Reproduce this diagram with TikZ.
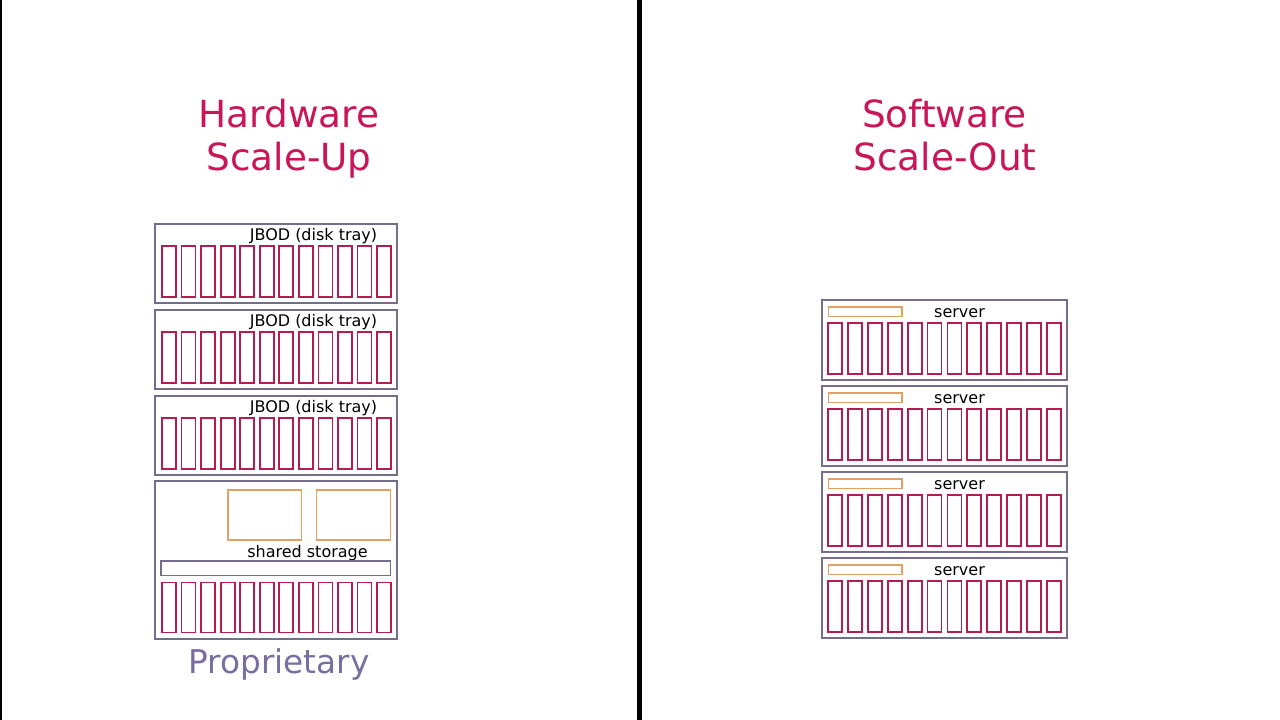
\documentclass[tikz,border=0pt]{standalone}
\usepackage{fontspec}
\setmainfont{DejaVu Sans}
\usetikzlibrary{positioning}

\definecolor{titlered}{RGB}{200,22,88}
\definecolor{diskred}{RGB}{180,28,82}
\definecolor{framegray}{RGB}{118,108,140}
\definecolor{ctrlorange}{RGB}{228,160,96}
\definecolor{proplabel}{RGB}{120,110,160}

\tikzset{
  tray/.style={draw=framegray, line width=1.5pt},
  disk/.style={draw=diskred, line width=1.8pt},
  ctrlbox/.style={draw=ctrlorange, line width=1.8pt},
  heading/.style={text=titlered, font=\fontsize{37.4}{44}\selectfont, inner sep=0pt, anchor=base},
  tag/.style={font=\fontsize{16}{19}\selectfont, inner sep=0pt, anchor=base},
}

\begin{document}
\begin{tikzpicture}[x=1pt,y=-1pt]
      \useasboundingbox (0,0) rectangle (1280,720);
      \fill[white] (0,0) rectangle (1280,720);
      \draw[line width=1.5pt] (0.75,0) -- (0.75,720);
      \fill[black] (637,0) rectangle (642,720);

      % hardware scale-up
      \node[heading] (hardware) at (289,127) {Hardware};
      \node[heading] (scaleup) at (289,170) {Scale-Up};

      \foreach \y [count=\n] in {224,310,396} {
        \draw[tray] (155,\y) rectangle (397,\y+79);
        \node[tag] (jbod\n) at (313.5,\y+16.5) {JBOD (disk tray)};
        \foreach \i in {0,...,11}
          \draw[disk] (162+19.55*\i,\y+22) rectangle (176+19.55*\i,\y+73);
      }

      \draw[tray] (155,481) rectangle (397,639);
      \draw[ctrlbox] (228,490) rectangle (301.5,540);
      \draw[ctrlbox] (316.5,490) rectangle (390.5,540);
      \node[tag] (shared) at (307.5,557) {shared storage};
      \draw[tray] (161,561) rectangle (390.5,575.5);
      \foreach \i in {0,...,11}
        \draw[disk] (162+19.55*\i,582.5) rectangle (176+19.55*\i,632.5);

      \node[heading, text=proplabel, font=\fontsize{32.7}{38}\selectfont] (proprietary) at (279,673) {Proprietary};

      % software scale-out
      \node[heading] (software) at (944.5,127) {Software};
      \node[heading] (scaleout) at (945,170) {Scale-Out};

      \foreach \y [count=\n] in {300,386,472,558} {
        \draw[tray] (822,\y) rectangle (1067,\y+80);
        \draw[ctrlbox] (828.5,\y+7) rectangle (902,\y+16.5);
        \node[tag] (server\n) at (959.5,\y+17) {server};
        \foreach \i in {0,...,11}
          \draw[disk] (828+19.9*\i,\y+23) rectangle (842+19.9*\i,\y+74);
      }
\end{tikzpicture}
\end{document}
